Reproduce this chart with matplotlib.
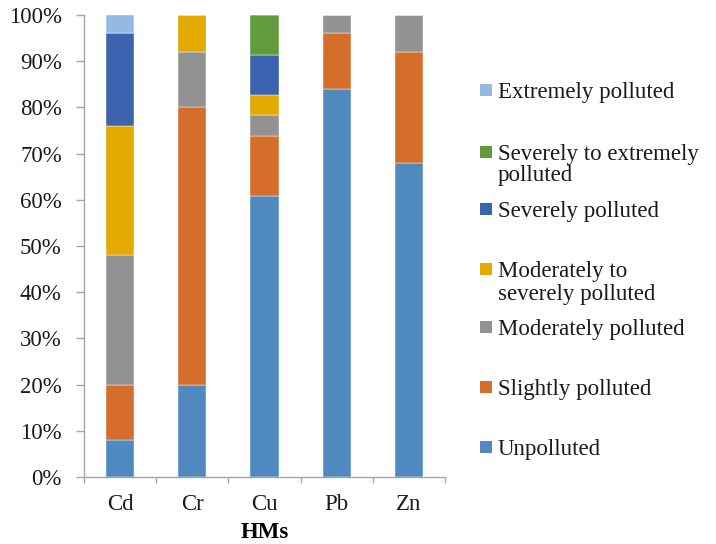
import numpy as np
import matplotlib.pyplot as plt
from matplotlib.patches import Rectangle
from matplotlib.ticker import FuncFormatter

plt.rcParams['font.family'] = ['Liberation Serif', 'DejaVu Serif']

metals = ["Cd", "Cr", "Cu", "Pb", "Zn"]

# share of samples (%) in each pollution class, bottom to top
unpolluted = [8, 20, 60.9, 84, 68]
slightly = [12, 60, 13.0, 12, 24]
moderately = [28, 12, 4.35, 4, 8]
mod_to_severe = [28, 8, 4.35, 0, 0]
severely = [20, 0, 8.7, 0, 0]
severe_to_extreme = [0, 0, 8.7, 0, 0]
extremely = [4, 0, 0, 0, 0]

series = [unpolluted, slightly, moderately, mod_to_severe,
          severely, severe_to_extreme, extremely]
labels = ["Unpolluted", "Slightly polluted", "Moderately polluted",
          "Moderately to\nseverely polluted", "Severely polluted",
          "Severely to extremely\npolluted", "Extremely polluted"]
colors = ["#4F89BE", "#D46E2A", "#929292", "#E3AA00",
          "#3C64AE", "#639A3E", "#95B9E0"]

fig = plt.figure(figsize=(7.16, 5.44), dpi=100)
ax = fig.add_axes([84 / 716, 1 - 477 / 544, (445 - 84) / 716, (477 - 15) / 544])

x = np.arange(len(metals))
bottom = np.zeros(len(metals))
for vals, col in zip(series, colors):
    vals = np.array(vals, dtype=float)
    ax.bar(x, vals, width=0.39, bottom=bottom, color=col,
           edgecolor="white", linewidth=0.3)
    bottom += vals

ax.set_xlim(-0.5, len(metals) - 0.5)
ax.set_ylim(0, 100)
ax.set_yticks(np.arange(0, 101, 10))
ax.yaxis.set_major_formatter(FuncFormatter(lambda v, p: f"{int(v)}%"))
ax.set_xticks(x)
ax.set_xticklabels(metals)
ax.set_xticks(np.arange(-0.5, len(metals), 1), minor=True)

for s in ["top", "right"]:
    ax.spines[s].set_visible(False)
for s in ["left", "bottom"]:
    ax.spines[s].set_color("#A6A6A6")
    ax.spines[s].set_linewidth(1.0)

ax.tick_params(axis="y", length=6, width=1, color="#A6A6A6", pad=10,
               labelsize=16.5, labelcolor="#1a1a1a")
ax.tick_params(axis="x", which="major", length=0, pad=12,
               labelsize=16.5, labelcolor="#1a1a1a")
ax.tick_params(axis="x", which="minor", length=4, width=1, color="#A6A6A6")
ax.set_xlabel("HMs", fontsize=16.5, fontweight="bold", labelpad=5)

# legend drawn in figure pixels, top entry first; one y per text line
W, H = 716, 544
legend_rows = [
    (6, [90]), (5, [152, 173]), (4, [209]), (3, [269, 292]),
    (2, [327]), (1, [387]), (0, [447]),
]
for idx, ys in legend_rows:
    fig.patches.append(Rectangle((480 / W, 1 - (ys[0] + 6) / H), 12 / W, 12 / H,
                                 transform=fig.transFigure,
                                 facecolor=colors[idx], edgecolor="none"))
    for line, ypix in zip(labels[idx].split("\n"), ys):
        fig.text(498 / W, 1 - ypix / H, line, fontsize=16.5,
                 va="center_baseline", ha="left", color="#1a1a1a")

fig.savefig("out.png", dpi=100)
